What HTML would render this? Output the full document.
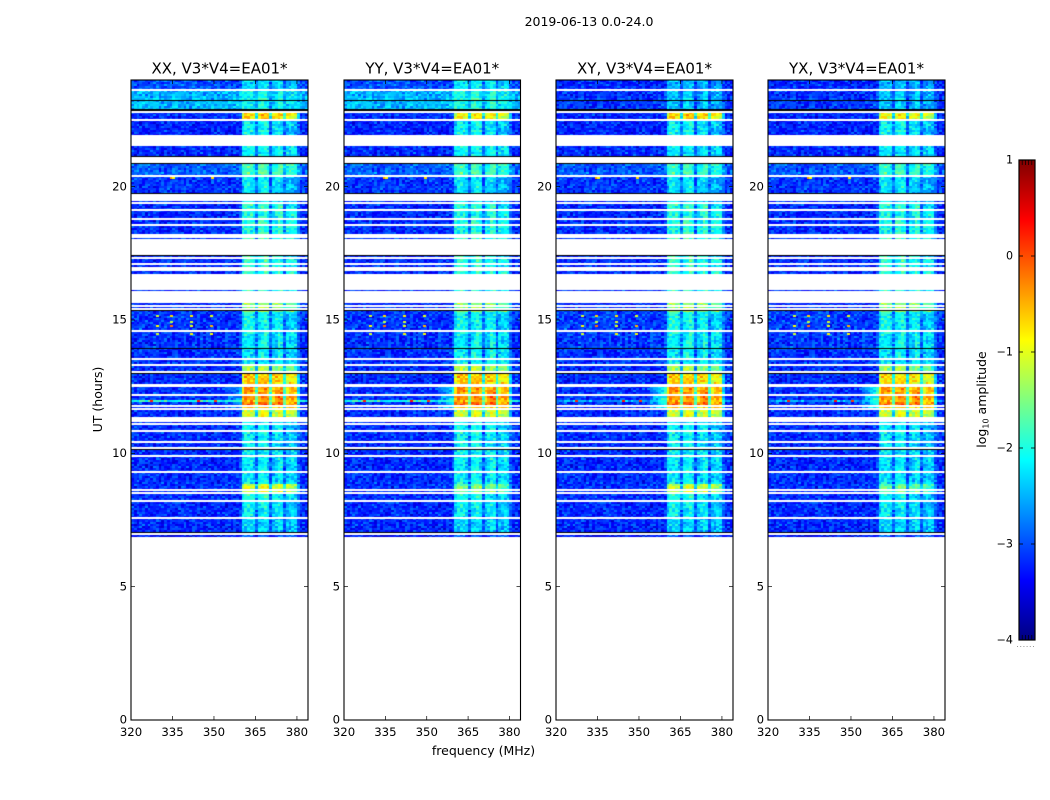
<!DOCTYPE html>
<html>
<head>
<meta charset="utf-8">
<title>2019-06-13 dynamic spectra</title>
<style>
html,body{margin:0;padding:0;background:#fff;}
#figure{position:relative;width:1050px;height:800px;overflow:hidden;background:#fff;font-family:"DejaVu Sans","Liberation Sans",sans-serif;}
canvas{position:absolute;top:80px;height:640px;}
svg{position:absolute;left:0;top:0;}
text{font-family:"DejaVu Sans","Liberation Sans",sans-serif;fill:#000;}
</style>
</head>
<body>
<div id="figure">
<svg id="axes" width="1050" height="800" style="z-index:2">
  <text x="589" y="26" font-size="12.5" text-anchor="middle">2019-06-13 0.0-24.0</text>
  <text x="483.5" y="755" font-size="12.5" text-anchor="middle">frequency (MHz)</text>
  <text transform="translate(102,399.5) rotate(-90)" font-size="12.5" text-anchor="middle">UT (hours)</text>
  <text transform="translate(986,399.5) rotate(-90)" font-size="12.5" text-anchor="middle">log<tspan font-size="8" dy="2.5">10</tspan><tspan dy="-2.5"> amplitude</tspan></text>
</svg>
</div>
<script>
// ---------- chart data ----------
const panelTitles = ["XX, V3*V4=EA01*", "YY, V3*V4=EA01*", "XY, V3*V4=EA01*", "YX, V3*V4=EA01*"];
const freqTicks = [320, 335, 350, 365, 380];
const utTicks = [0, 5, 10, 15, 20];
const colorbarTicks = [1, 0, -1, -2, -3, -4];

// coarse time segments: UT at the top edge of each, with log10 amplitude levels
const segmentTopUT = [24, 23.625, 22.78, 22.5, 21.525, 20.85, 20.38, 19.46, 15.64, 15.33, 13.91, 13.29, 12.975, 12.525, 12.19, 12.0, 11.96, 11.78, 11.65, 11.19, 8.87, 8.52, 8.21, 7.575, 6.986];
const backgroundParallel = [-3.0, -2.5, -3.2, -3.25, -3.2, -2.95, -3.15, -3.2, -3.2, -3.15, -3.2, -3.2, -3.2, -3.15, -3.15, -2.0, -3.15, -3.2, -3.2, -3.2, -3.2, -3.2, -3.2, -3.2, -3.4];
const backgroundCross = [-3.2, -3.15, -3.25, -3.25, -3.2, -3.0, -3.15, -3.2, -3.2, -3.1, -3.2, -3.2, -3.2, -3.15, -3.15, -2.6, -3.15, -3.2, -3.2, -3.2, -3.2, -3.2, -3.2, -3.2, -3.4];
const bandLevelXX = [-2.4, -2.2, -0.8, -2.3, -2.2, -1.9, -2.35, -2.05, -1.5, -2.25, -2.3, -1.5, -0.75, -0.5, -0.4, -0.6, -0.25, -0.6, -1.1, -2.3, -1.15, -2.15, -2.3, -2.4, -3.0];
const bandLevelYY = [-2.3, -2.1, -1.0, -2.3, -2.2, -1.95, -2.4, -2.1, -1.55, -2.25, -2.2, -1.4, -0.75, -0.5, -0.4, -0.6, -0.25, -0.65, -1.15, -2.25, -1.65, -2.25, -2.3, -2.4, -3.0];
const bandLevelXY = [-2.6, -2.5, -0.8, -2.3, -2.3, -2.0, -2.4, -2.05, -1.5, -2.2, -2.25, -1.5, -0.8, -0.5, -0.45, -0.6, -0.25, -0.6, -1.15, -2.3, -1.25, -2.2, -2.3, -2.4, -3.0];
const bandLevelYX = [-2.6, -2.5, -1.05, -2.3, -2.3, -2.0, -2.4, -2.1, -1.55, -2.25, -2.3, -1.55, -0.9, -0.55, -0.45, -0.65, -0.3, -0.65, -1.15, -2.35, -1.75, -2.35, -2.35, -2.4, -3.0];

// per-channel (1 MHz) weight of the bright 360-380 MHz band and its small offset
const bandWeight = [0,0,0,0,0,0,0,0,0,0, 0,0,0,0,0,0,0,0,0,0, 0,0,0,0,0,0,0,0,0,0, 0,0,0,0,0,0,0,0,0,0.05, 0.9,1,1,1,1,0.55,1,1,1,1, 0.55,1,1,1,1,0.55,0.95,1,1,0.95, 0.3,0,0,0];
const bandOffset = [0,0,0,0,0,0,0,0,0,0, 0,0,0,0,0,0,0,0,0,0, 0,0,0,0,0,0,0,0,0,0, 0,0,0,0,0,0,0,0,0,0, 0.05,0.15,0.15,0.1,0,-0.15,0.05,0.2,0.2,0.1, -0.25,-0.1,0,0.1,0.1,-0.2,-0.1,-0.05,0,-0.1, 0,0,0,0];

// low-frequency halo next to the band around 12 UT
const haloTopUT = 12.5;
const haloBottomUT = 11.6;
const haloPeakLevel = [-2.7, -2.35, -2.1, -2.1];
const haloChannelWeight = [0,0,0,0,0,0,0,0,0,0, 0,0,0,0,0,0,0,0,0,0, 0,0,0,0,0,0,0,0,0,0, 0,0,0,0.1,0.25,0.45,0.65,0.85,1,1, 0,0,0,0,0,0,0,0,0,0, 0,0,0,0,0,0,0,0,0,0, 0,0,0,0];

// speckle texture (log10 deviations)
const speckleA = [0.12,-0.18,0.05,0.22,-0.09,-0.2,0.16,0.02,-0.14,0.27,-0.05,0.09,-0.22,0.14,-0.02,0.19,-0.12,0.07,-0.25,0.11,0.24,-0.07,-0.16,0.03,0.18,-0.11,0.08,-0.19,0.21,-0.04,0.13];
const speckleB = [-0.08,0.15,-0.2,0.06,0.18,-0.13,0.01,0.23,-0.17,0.1,-0.03,-0.23,0.2,0.04,-0.1,0.13,-0.15,0.26,-0.06,0.08,-0.21,0.17,0,-0.12,0.11,0.22,-0.18,0.05,-0.09,0.16,-0.24,0.03,0.12,-0.14,0.19,-0.01,-0.11];

// flagged time ranges [top UT, bottom UT]
const whiteFlagsUT = [[23.681,23.625],[22.819,22.781],[22.556,22.5],[21.938,21.525],[21.094,20.906],[20.456,20.42],[19.744,19.463],[19.414,19.35],[19.181,19.144],[18.825,18.769],[18.6,18.563],[18.225,18.075],[18.019,17.438],[17.351,17.288],[17.119,17.081],[16.988,16.95],[16.894,16.856],[16.736,16.125],[16.088,15.638],[15.563,15.499],[15.439,15.401],[14.625,14.588],[13.564,13.526],[13.35,13.286],[13.088,13.039],[12.6,12.563],[12.544,12.525],[12.214,12.188],[11.824,11.775],[11.689,11.651],[11.374,11.186],[11.149,11.1],[10.875,10.8],[10.463,10.414],[10.219,10.185],[9.926,9.874],[9.338,9.3],[8.651,8.599],[8.561,8.524],[8.25,8.213],[7.613,7.575],[7.024,6.986]];
const blackFlagsUT = [[23.239,23.213],[22.894,22.819],[21.15,21.094],[20.888,20.85],[19.763,19.744],[17.438,17.4],[15.364,15.326],[13.939,13.913],[12.994,12.975],[10.181,10.144],[7.05,7.024]];
const dataBottomUT = 6.851;

// isolated interference spots
const rfiSpotUT = [15.2,15.2,15.2,15.2,14.98,14.98,14.8,14.8,14.8,14.8,14.5,14.5,14.5,20.38,20.38,20.38,11.99,11.99,11.99];
const rfiSpotMHz = [329,334,341.5,348.5,334,341.5,329,334,341.5,348.5,329,341.5,348.5,334,335,349,327,344,350];
const rfiSpotLevel = [-1.1,-0.7,-0.8,-1.0,-1.2,-1.1,-0.9,-0.2,-1.0,-0.5,-1.1,-0.8,-0.9,-0.4,-0.9,-0.7,0.2,0.3,0.1];

// ---------- geometry ----------
const panelLeft = [131, 344, 556, 768];
const panelWidth = [177, 176.5, 177, 177];
const plotTop = 80, plotHeight = 640;
const freqMin = 320, freqMax = 384, utMax = 24;
const rowStepUT = 0.075;
const cbLeft = 1019, cbWidth = 16, cbTop = 160, cbHeight = 480;
const SVGNS = "http://www.w3.org/2000/svg";

function xPos(mhz, p) { return (mhz - freqMin) / (freqMax - freqMin) * panelWidth[p]; }
function yPos(ut) { return (utMax - ut) / utMax * plotHeight; }
function cbY(level) { return cbTop + (1 - level) / 5 * cbHeight; }

function jet(level) {
  const t = Math.max(0, Math.min(1, (level + 4) / 5));
  const ramp = function (v) { return Math.round(255 * Math.max(0, Math.min(1, Math.min(4 * v - 1.5, -4 * v + 4.5)))); };
  return "rgb(" + ramp(t) + "," + ramp(t + 0.25) + "," + ramp(t + 0.5) + ")";
}

function segmentIndex(ut) {
  let idx = 0;
  for (let i = 0; i < segmentTopUT.length; i++) { if (segmentTopUT[i] >= ut) idx = i; }
  return idx;
}

const bandLevels = [bandLevelXX, bandLevelYY, bandLevelXY, bandLevelYX];
const backgrounds = [backgroundParallel, backgroundParallel, backgroundCross, backgroundCross];

function drawHeatmap(p) {
  const canvas = document.createElement("canvas");
  
  
  canvas.width = Math.ceil(panelWidth[p]);
  canvas.height = plotHeight;
  canvas.style.left = panelLeft[p] + "px";
  canvas.style.width = Math.ceil(panelWidth[p]) + "px";
  document.getElementById("figure").insertBefore(canvas, document.getElementById("axes"));
  const ctx = canvas.getContext("2d");
  ctx.fillStyle = "#fff";
  ctx.fillRect(0, 0, canvas.width, canvas.height);

  const rows = Math.ceil((utMax - dataBottomUT) / rowStepUT);
  for (let r = 0; r < rows; r++) {
    const utTop = utMax - r * rowStepUT;
    const utBot = Math.max(dataBottomUT, utTop - rowStepUT);
    const ut = (utTop + utBot) / 2;
    const s = segmentIndex(ut);
    const y0 = Math.round(yPos(utTop)), y1 = Math.round(yPos(utBot));
    for (let c = 0; c < bandWeight.length; c++) {
      const bg = backgrounds[p][s];
      const band = bandLevels[p][s];
      let level = bg + (band - bg) * bandWeight[c] + bandOffset[c];
      if (ut <= haloTopUT && ut >= haloBottomUT && haloChannelWeight[c] > 0) {
        level = Math.max(level, bg + (haloPeakLevel[p] - bg) * haloChannelWeight[c]);
      }
      level += speckleA[(c * c + r * 7) % speckleA.length] + speckleB[(r * r + c * 11) % speckleB.length];
      const x0 = Math.round(xPos(freqMin + c, p)), x1 = Math.round(xPos(freqMin + c + 1, p));
      ctx.fillStyle = jet(level);
      ctx.fillRect(x0, y0, x1 - x0, y1 - y0);
    }
  }
  ctx.fillStyle = "#fff";
  whiteFlagsUT.forEach(function (f) {
    const a = Math.round(yPos(f[0]));
    ctx.fillRect(0, a, canvas.width, Math.max(2, Math.round(yPos(f[1])) - a));
  });
  ctx.fillStyle = "#000";
  blackFlagsUT.forEach(function (f) {
    const a = Math.round(yPos(f[0]));
    ctx.fillRect(0, a, canvas.width, Math.max(1, Math.round(yPos(f[1])) - a));
  });
  rfiSpotUT.forEach(function (ut, i) {
    ctx.fillStyle = jet(rfiSpotLevel[i]);
    ctx.fillRect(Math.round(xPos(rfiSpotMHz[i], p)), Math.round(yPos(ut)), 3, 2);
  });
}

function svgEl(parent, tag, attrs, txt) {
  const el = document.createElementNS(SVGNS, tag);
  for (const k in attrs) el.setAttribute(k, attrs[k]);
  if (txt !== undefined) el.textContent = txt;
  parent.appendChild(el);
  return el;
}

const axes = document.getElementById("axes");

function drawAxes(p) {
  const L = panelLeft[p], W = panelWidth[p];
  const g = svgEl(axes, "g", {});
  
  
  const title = svgEl(g, "text", { x: L + W / 2, y: 73.5, "font-size": 15, "text-anchor": "middle" }, panelTitles[p]);
  
  
  const frame = svgEl(g, "rect", { x: L, y: plotTop, width: W, height: plotHeight, fill: "none", stroke: "#000", "stroke-width": 1.1 });
  
  
  freqTicks.forEach(function (f) {
    const x = L + xPos(f, p);
    const bottomTick = svgEl(g, "line", { x1: x, x2: x, y1: plotTop + plotHeight, y2: plotTop + plotHeight - 4, stroke: "#000", "stroke-width": 0.7 });
    
    
    const topTick = svgEl(g, "line", { x1: x, x2: x, y1: plotTop, y2: plotTop + 4, stroke: "#000", "stroke-width": 0.7 });
    
    
    const label = svgEl(g, "text", { x: x, y: 736, "font-size": 11.7, "text-anchor": "middle" }, String(f));
    
    
  });
  utTicks.forEach(function (u) {
    const y = plotTop + yPos(u);
    const leftTick = svgEl(g, "line", { x1: L, x2: L + 4, y1: y, y2: y, stroke: "#000", "stroke-width": 0.7 });
    
    
    const rightTick = svgEl(g, "line", { x1: L + W, x2: L + W - 4, y1: y, y2: y, stroke: "#000", "stroke-width": 0.7 });
    
    
    const label = svgEl(g, "text", { x: L - 4, y: y + 3.6, "font-size": 11.7, "text-anchor": "end" }, String(u));
    
    
  });
}

function drawColorbar() {
  const g = svgEl(axes, "g", {});
  
  
  const defs = svgEl(g, "defs", {});
  const grad = svgEl(defs, "linearGradient", { id: "jetGrad", x1: 0, y1: 0, x2: 0, y2: 1 });
  for (let i = 0; i <= 40; i++) {
    svgEl(grad, "stop", { offset: (i / 40), "stop-color": jet(1 - 5 * i / 40) });
  }
  const bar = svgEl(g, "rect", { x: cbLeft, y: cbTop, width: cbWidth, height: cbHeight, fill: "url(#jetGrad)", stroke: "#000", "stroke-width": 1.2 });
  
  
  colorbarTicks.forEach(function (v) {
    const y = cbY(v);
    const t1 = svgEl(g, "line", { x1: cbLeft, x2: cbLeft + 4, y1: y, y2: y, stroke: "#000", "stroke-width": 0.8 });
    
    
    const t2 = svgEl(g, "line", { x1: cbLeft + cbWidth, x2: cbLeft + cbWidth - 4, y1: y, y2: y, stroke: "#000", "stroke-width": 0.8 });
    
    
    const label = svgEl(g, "text", { x: cbLeft - 6, y: y + 3.5, "font-size": 11.1, "text-anchor": "end" }, (v < 0 ? "\u2212" + (-v) : String(v)));
    
    
  });
  for (let i = 1; i <= 4; i++) {
    const x = cbLeft + i * cbWidth / 5;
    const m1 = svgEl(g, "line", { x1: x, x2: x, y1: cbTop, y2: cbTop + 5, stroke: "#000", "stroke-width": 0.7 });
    
    
    const m2 = svgEl(g, "line", { x1: x, x2: x, y1: cbTop + cbHeight, y2: cbTop + cbHeight - 5, stroke: "#000", "stroke-width": 0.7 });
    
    
  }
  const dots = svgEl(g, "line", { x1: 1017, x2: 1035, y1: 646.5, y2: 646.5, stroke: "#999", "stroke-width": 1, "stroke-dasharray": "1 2.2" });
  
  
}

for (let p = 0; p < panelTitles.length; p++) {
  drawHeatmap(p);
  drawAxes(p);
}
drawColorbar();
</script>
</body>
</html>
